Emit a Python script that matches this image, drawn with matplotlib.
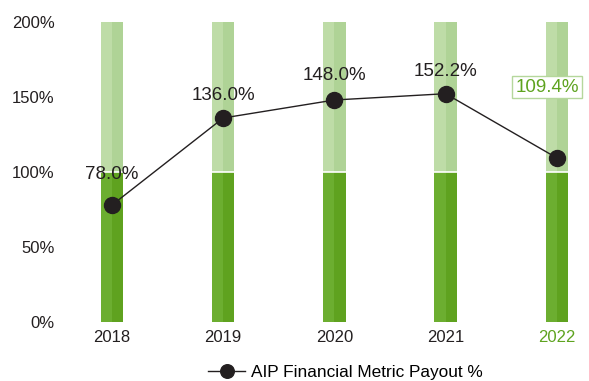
import matplotlib.pyplot as plt

plt.rcParams["font.family"] = ["Liberation Sans", "DejaVu Sans"]

years = ["2018", "2019", "2020", "2021", "2022"]
payout = [78.0, 136.0, 148.0, 152.2, 109.4]
target = 100
maximum = 200
label_offsets = [(0, 22), (0, 16), (0, 18), (0, 16), (-7, 51)]

dark_left, dark_right = "#6cae30", "#5fa21f"
light_left, light_right = "#bedca7", "#afd396"
ink = "#231f20"

figure = plt.figure(figsize=(5.89, 3.81), dpi=100)
axis = figure.add_axes([60 / 589, 59 / 381, 529 / 589, 300 / 381])

x = list(range(len(years)))
half = 0.1
left = [i - half / 2 for i in x]
right = [i + half / 2 for i in x]

# lower block up to target, upper block from target to the cap
axis.bar(left, [target] * len(x), width=half, color=dark_left, linewidth=0)
axis.bar(right, [target] * len(x), width=half, color=dark_right, linewidth=0)
axis.bar(left, [maximum - target] * len(x), bottom=target, width=half,
         color=light_left, linewidth=0)
axis.bar(right, [maximum - target] * len(x), bottom=target, width=half,
         color=light_right, linewidth=0)
axis.hlines([target] * len(x), [i - half for i in x], [i + half for i in x],
            color="white", linewidth=1.2, zorder=3)

axis.plot(x, payout, color=ink, linewidth=1.0, marker="o", markersize=11.5,
          label="AIP Financial Metric Payout %", zorder=5)

for i, (value, offset) in enumerate(zip(payout, label_offsets)):
    if i == len(payout) - 1:
        axis.annotate(f"{value:.1f}%", (i, value), xytext=offset,
                      textcoords="offset points", ha="center", va="center",
                      fontsize=13.5, color="#5ea31f", zorder=6,
                      bbox=dict(boxstyle="square,pad=0.15", facecolor="white",
                                edgecolor="#b5d79c", linewidth=1.0))
    else:
        axis.annotate(f"{value:.1f}%", (i, value), xytext=offset,
                      textcoords="offset points", ha="center", va="center",
                      fontsize=13.5, color=ink, zorder=6)

axis.set_xlim(-0.468, 4.29)
axis.set_ylim(0, maximum)
axis.set_xticks(x)
axis.set_xticklabels(years, fontsize=12, color=ink)
axis.get_xticklabels()[-1].set_color("#5ea31f")
axis.set_yticks([0, 50, 100, 150, 200])
axis.set_yticklabels([f"{v}%" for v in [0, 50, 100, 150, 200]],
                     fontsize=12, color=ink)
axis.tick_params(length=0, pad=6)
axis.tick_params(axis="y", pad=4)
for spine in axis.spines.values():
    spine.set_visible(False)

figure.legend(loc="center", bbox_to_anchor=(345 / 589, 9 / 381),
              frameon=False, fontsize=12.4, handlelength=2.2, handletextpad=0.3,
              markerscale=0.85)

figure.savefig("out.png", dpi=100)
